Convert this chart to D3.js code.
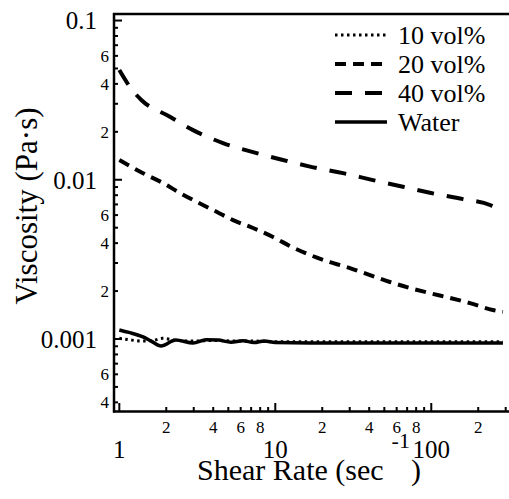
<!DOCTYPE html>
<html><head><meta charset="utf-8">
<script src="https://cdn.jsdelivr.net/npm/d3@7"></script>
<style>html,body{margin:0;padding:0;background:#fff;} svg{display:block;} text{font-family:"Liberation Serif","Times New Roman",Times,serif;}</style>
</head><body>
<svg id="c" width="509" height="499"></svg>
<script>
// ---- data ----
const shear40 = [1.0, 1.2, 1.39, 2.11, 2.97, 4.62, 7.2, 11.2, 16.7, 27.2, 42.3, 65.8, 98, 160, 238, 288];
const visc40  = [0.0489, 0.037, 0.0316, 0.0249, 0.0205, 0.0170, 0.0149, 0.0133, 0.0121, 0.0110, 0.00995, 0.00904, 0.00828, 0.00756, 0.00694, 0.00626];

const shear20 = [1.0, 1.42, 1.91, 2.45, 3.15, 4.23, 5.36, 7.2, 9.67, 12.8, 16.7, 22.4, 30.1, 40.5, 54.3, 73, 98, 132, 177, 248, 288];
const visc20  = [0.0133, 0.0110, 0.00953, 0.00826, 0.00725, 0.00627, 0.00558, 0.00498, 0.00437, 0.00378, 0.00337, 0.00304, 0.00279, 0.00252, 0.00228, 0.00209, 0.00194, 0.00181, 0.00168, 0.00152, 0.00148];

const shear10 = [1.0, 1.15, 1.4, 1.65, 1.9, 2.3, 3.0, 4.0, 5.5, 7.5, 10, 20, 50, 100, 200, 288];
const visc10  = [0.00101, 0.00099, 0.00097, 0.00098, 0.00101, 0.00098, 0.00097, 0.00098, 0.00097, 0.00097, 0.00096, 0.00096, 0.00096, 0.00096, 0.00096, 0.00096];

const shearW = [1.0, 1.15, 1.42, 1.6, 1.85, 2.3, 2.97, 3.6, 4.3, 5.2, 6.2, 7.3, 8.5, 10, 16.7, 30, 60, 100, 200, 288];
const viscW  = [0.00114, 0.00110, 0.00103, 0.00097, 0.000904, 0.000986, 0.000944, 0.000990, 0.000985, 0.000955, 0.000975, 0.000950, 0.000972, 0.000950, 0.000944, 0.000944, 0.000944, 0.000944, 0.000944, 0.000944];

const seriesNames = ["10 vol%", "20 vol%", "40 vol%", "Water"];
const xMajorLabels = ["1", "10", "100"];
const yMajorLabels = ["0.1", "0.01", "0.001"];

// ---- layout ----
const svg = d3.select("#c");
const x = d3.scaleLog().domain([0.911, 315]).range([113, 509]);
const y = d3.scaleLog().domain([3.53e-4, 0.1099]).range([411, 14]);

const styles = {
  "10 vol%": {dash: "2.5,3.5", w: 3},
  "20 vol%": {dash: "11,7", w: 4},
  "40 vol%": {dash: "17,13", w: 4},
  "Water":   {dash: null, w: 3.5}
};

const series = [
  {name: "10 vol%", xs: shear10, ys: visc10},
  {name: "20 vol%", xs: shear20, ys: visc20},
  {name: "40 vol%", xs: shear40, ys: visc40},
  {name: "Water",   xs: shearW,  ys: viscW}
];

const line = d3.line().x(d => x(d[0])).y(d => y(d[1])).curve(d3.curveMonotoneX);
series.forEach(s => {
  const st = styles[s.name];
  svg.append("path")
    .datum(s.xs.map((v, i) => [v, s.ys[i]]))
    .attr("d", line)
    .attr("fill", "none")
    .attr("stroke", "#000")
    .attr("stroke-width", st.w)
    .attr("stroke-dasharray", st.dash);
});

// ---- axes ----
const yTicks = [];
for (let e = -4; e <= -1; e++) for (let m = 1; m <= 9; m++) {
  const v = m * Math.pow(10, e);
  if (v >= 3.53e-4 && v <= 0.1099) yTicks.push(v);
}
const yAxis = d3.axisRight(y).tickValues(yTicks).tickSize(0).tickFormat("");
svg.append("g").attr("transform", "translate(114,0)").call(yAxis).select(".domain").remove();
yTicks.forEach(v => {
  const m = Math.round(v / Math.pow(10, Math.floor(Math.log10(v) + 1e-9)));
  const major = m === 1;
  svg.append("line").attr("x1", 114).attr("x2", 114 + (major ? 8 : 4))
    .attr("y1", y(v)).attr("y2", y(v)).attr("stroke", "#000").attr("stroke-width", 2);
  if (major) {
    const idx = [0.1, 0.01, 0.001].findIndex(t => Math.abs(t - v) / t < 1e-6);
    svg.append("text").attr("x", 97).attr("y", y(v)).attr("dy", "0.35em")
      .attr("text-anchor", "end").attr("font-size", 25)
      .text(yMajorLabels[idx]);
  } else if (m === 2 || m === 4 || m === 6) {
    svg.append("text").attr("x", 109).attr("y", y(v)).attr("dy", "0.35em")
      .attr("text-anchor", "end").attr("font-size", 17)
      .text(String(m));
  }
});

const xTicks = [];
for (let e = 0; e <= 2; e++) for (let m = 1; m <= 9; m++) {
  const v = m * Math.pow(10, e);
  if (v <= 315) xTicks.push(v);
}
xTicks.forEach(v => {
  const e = Math.floor(Math.log10(v) + 1e-9);
  const m = Math.round(v / Math.pow(10, e));
  const major = m === 1;
  svg.append("line").attr("x1", x(v)).attr("x2", x(v))
    .attr("y1", 411).attr("y2", 411 - (major ? 8 : 4)).attr("stroke", "#000").attr("stroke-width", 2);
  if (major) {
    svg.append("text").attr("x", x(v)).attr("y", 458)
      .attr("text-anchor", "middle").attr("font-size", 25)
      .text(xMajorLabels[e]);
  } else if (m % 2 === 0) {
    svg.append("text").attr("x", x(v)).attr("y", 433)
      .attr("text-anchor", "middle").attr("font-size", 17)
      .text(String(m));
  }
});

// frame lines
svg.append("line").attr("x1", 114).attr("x2", 114).attr("y1", 13).attr("y2", 412.5)
  .attr("stroke", "#000").attr("stroke-width", 2.5);
svg.append("line").attr("x1", 113).attr("x2", 509).attr("y1", 411.5).attr("y2", 411.5)
  .attr("stroke", "#000").attr("stroke-width", 2.5);
svg.append("line").attr("x1", 113).attr("x2", 509).attr("y1", 14).attr("y2", 14)
  .attr("stroke", "#000").attr("stroke-width", 2.5);

// titles
const xt = svg.append("text").attr("x", 197).attr("y", 480).attr("text-anchor", "start")
  .attr("font-size", 30);
xt.append("tspan").text("Shear Rate (sec");
xt.append("tspan").attr("font-size", 22).attr("dy", -32).attr("dx", 8).text("-1");
xt.append("tspan").attr("dy", 32).attr("dx", 1).text(")");

svg.append("text").attr("transform", "translate(37,206) rotate(-90)")
  .attr("text-anchor", "middle").attr("font-size", 31)
  .text("Viscosity (Pa\u00B7s)");

// legend
const legY = [35, 64, 93, 122];
seriesNames.forEach((n, i) => {
  const st = styles[n];
  svg.append("line").attr("x1", 335).attr("x2", 387).attr("y1", legY[i]).attr("y2", legY[i])
    .attr("stroke", "#000").attr("stroke-width", st.w)
    .attr("stroke-dasharray", st.dash);
  svg.append("text").attr("x", 398).attr("y", legY[i]).attr("dy", "0.33em")
    .attr("font-size", 26).text(n);
});
</script>
</body></html>
